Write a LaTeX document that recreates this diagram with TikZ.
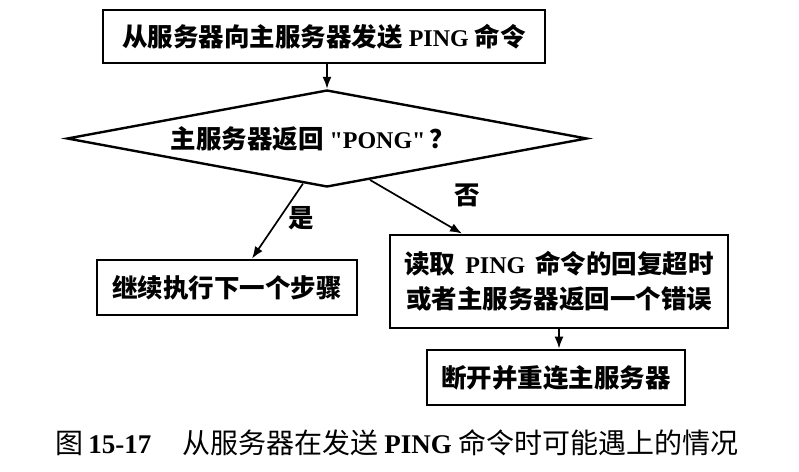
\documentclass[tikz,border=0pt]{standalone}
\usepackage{fontspec}
\usetikzlibrary{arrows.meta,shapes.geometric,calc}
\newfontfamily\cjk{Noto Sans CJK SC}
\newfontfamily\tnr{Liberation Serif}
\newcommand{\bx}{\fontsize{25.5}{35}\selectfont\cjk\bfseries}
\newcommand{\lat}[1]{{\fontsize{24}{30}\selectfont\tnr\bfseries #1}}
\tikzset{
  box/.style={draw, line width=2.8pt, inner sep=0pt, align=center, font=\bx},
  conn/.style={line width=1.7pt, -{Latex[length=12pt,width=9pt]}},
  lbl/.style={font=\bx, inner sep=0pt},
}
\begin{document}
\begin{tikzpicture}[x=1pt,y=-1pt]
\useasboundingbox (0,0) rectangle (799,471);
\node[box, minimum width=442pt, minimum height=53pt] (a) at (324,36.5)
  {从服务器向主服务器发送 \lat{PING} 命令};
\node[draw, line width=2.4pt, shape=diamond, aspect=5.36, inner sep=0pt,
  minimum width=520pt, minimum height=97pt] (d) at (327,138.5) {};
\node[lbl] (dt) at (313,139) {主服务器返回 \lat{"PONG"}\,？};
\node[box, minimum width=260pt, minimum height=55pt] (b) at (227,287.5)
  {继续执行下一个步骤};
\node[box, minimum width=338pt, minimum height=93pt] (c) at (559,281.5)
  {读取\hspace{0.4em}\lat{PING}\hspace{0.4em}命令的回复超时\\或者主服务器返回一个错误};
\node[box, minimum width=258pt, minimum height=55pt] (e) at (556,377.5)
  {断开并重连主服务器};
\node[lbl] (yes) at (301,218) {是};
\node[lbl] (no) at (467,195) {否};
\node[inner sep=0pt, font=\fontsize{28}{32}\selectfont\cjk] (cap) at (397,443)
  {图\,{\fontsize{27}{30}\selectfont\tnr\bfseries 15-17}\hspace{1.1em}从服务器在发送 {\fontsize{27}{30}\selectfont\tnr\bfseries PING} 命令时可能遇上的情况};
\draw[conn] (d.north |- a.south) -- (d.north);
\draw[conn] ($(d.south)!0.092!(d.west)$) -- ([xshift=25pt]b.north);
\draw[conn] ($(d.south)!0.165!(d.east)$) -- ([xshift=-97pt]c.north);
\draw[conn] (c.south) -- (c.south |- e.north);
\end{tikzpicture}
\end{document}
